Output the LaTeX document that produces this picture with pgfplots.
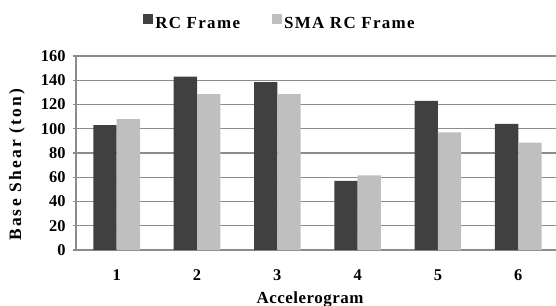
\documentclass[border=0pt]{standalone}
\usepackage{pgfplots}
\pgfplotsset{compat=1.18}
\usepackage{fontspec}
\setmainfont{Liberation Serif}
\newfontfamily\legfont{Liberation Serif}[LetterSpace=8]
\newfontfamily\xlabfont{Liberation Serif}[LetterSpace=3]
\newfontfamily\ylabfont{Liberation Serif}[LetterSpace=13]
\definecolor{rcdark}{HTML}{404040}
\definecolor{smalight}{HTML}{BFBFBF}
\definecolor{gridgray}{HTML}{8C8C8C}
\pgfplotsset{sqlegend/.style={legend image code/.code={\fill[##1] (0bp,-0.5bp) rectangle (10bp,9.5bp);}}}
\begin{document}
\begin{tikzpicture}
\begin{axis}[
  at={(0,0)}, anchor=south west,
  scale only axis,
  width=480bp, height=194bp,
  xmin=0.493, xmax=6.47,
  ymin=0, ymax=160,
  ytick={0,20,...,160},
  xtick={1,2,3,4,5,6},
  ybar=0pt, bar width=0.29,
  axis x line*=bottom, axis y line*=left,
  axis line style={gridgray, line width=1.2bp, -},
  ymajorgrids, grid style={gridgray, line width=1.2bp},
  tick align=outside, major tick length=3bp,
  ytick style={gridgray, line width=1.2bp},
  xtick style={draw=none},
  /pgf/number format/assume math mode=true,
  ticklabel style={font=\fontsize{16.5}{18}\selectfont\bfseries},
  yticklabel style={anchor=east, xshift=-4bp},
  xticklabel style={anchor=base, yshift=-27bp},
  xlabel={Accelerogram},
  ylabel={Base Shear (ton)},
  every axis x label/.style={at={([yshift=-53bp]axis description cs:0.4875,0)}, anchor=base,
    font=\xlabfont\fontsize{17}{20}\selectfont\bfseries},
  every axis y label/.style={at={([xshift=-59bp]axis description cs:0,0.44)}, rotate=90, anchor=center,
    font=\ylabfont\fontsize{17.5}{20}\selectfont\bfseries},
  legend columns=2,
  legend style={draw=none, fill=none, at={(axis description cs:0.425,1.17)}, anchor=center,
    font=\legfont\fontsize{17}{20}\selectfont\bfseries,
    /tikz/every even column/.append style={column sep=30bp}},
]
\addplot[fill=rcdark, draw=none, sqlegend] coordinates {(1,103) (2,143) (3,138.5) (4,57) (5,123) (6,104)};
\addplot[fill=smalight, draw=none, sqlegend] coordinates {(1,108) (2,128.5) (3,128.5) (4,61.5) (5,97) (6,88.5)};
\legend{RC Frame, SMA RC Frame}
\end{axis}
\pgfresetboundingbox
\path (-76bp,-56bp) rectangle (480bp,250bp);
\end{tikzpicture}
\end{document}
